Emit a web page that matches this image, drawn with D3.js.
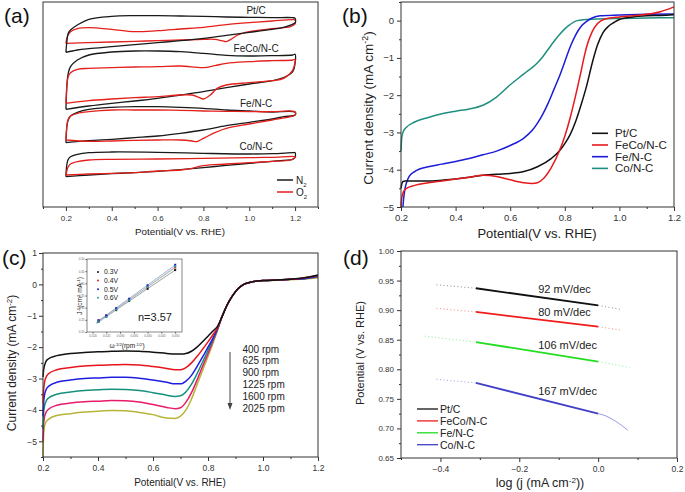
<!DOCTYPE html>
<html><head><meta charset="utf-8">
<script src="https://cdn.jsdelivr.net/npm/d3@7"></script>
<style>body{margin:0;background:#fff}svg{display:block}text{font-family:"Liberation Sans",Arial,sans-serif}</style>
</head><body><script>
// ---------------- DATA ----------------
// (a) cyclic voltammograms (offset current, a.u.), loops: forward then reverse scan
const aLabels = ["Pt/C","FeCo/N-C","Fe/N-C","Co/N-C"];
const ptN2V = [0.2,0.205,0.21,0.22,0.25,0.3,0.4,0.5,0.6,0.7,0.8,0.9,1.0,1.1,1.19,1.2,1.2,1.15,1.1,1.0,0.9,0.8,0.7,0.6,0.5,0.4,0.3,0.25,0.2];
const ptN2J = [46.4,50.1,52.1,53.1,54.6,56.3,57.2,57.4,57.4,57.3,57.2,57.0,56.9,56.8,56.8,56.6,55.3,53.9,53.3,52.4,51.5,50.6,49.9,49.3,48.7,48.1,47.5,47.1,46.4];
const ptO2V = [0.2,0.205,0.21,0.22,0.25,0.3,0.4,0.5,0.6,0.7,0.8,0.9,1.0,1.1,1.19,1.2,1.2,1.18,1.1,1.0,0.95,0.92,0.9,0.88,0.85,0.8,0.7,0.6,0.5,0.4,0.3,0.2];
const ptO2J = [49.1,50.9,51.6,52.6,53.5,53.8,53.3,52.6,52.9,53.4,53.9,54.7,55.3,55.8,56.2,56.1,54.9,54.1,53.5,52.6,51.6,50.3,49.6,49.9,50.3,50.3,50.1,49.9,49.7,49.5,49.3,49.1];
const fecoN2V = [0.2,0.202,0.205,0.21,0.22,0.25,0.3,0.4,0.5,0.6,0.7,0.8,0.9,1.0,1.1,1.19,1.2,1.2,1.19,1.15,1.1,1.0,0.9,0.8,0.7,0.6,0.5,0.4,0.3,0.2];
const fecoN2J = [29.3,33.1,37.1,40.1,42.1,44.1,45.6,46.5,46.8,46.8,46.6,46.1,45.5,45.3,45.4,45.6,45.8,43.1,40.6,38.8,37.9,36.9,35.8,34.6,33.6,32.6,31.8,31.1,30.3,29.3];
const fecoO2V = [0.2,0.202,0.205,0.21,0.22,0.25,0.3,0.4,0.5,0.6,0.7,0.8,0.85,0.9,1.0,1.1,1.19,1.2,1.2,1.19,1.15,1.1,1.0,0.9,0.86,0.83,0.8,0.78,0.75,0.7,0.6,0.5,0.4,0.3,0.2];
const fecoO2J = [31.1,34.1,37.1,39.1,40.3,41.3,41.6,41.8,42.0,42.1,42.3,41.8,42.4,43.1,43.6,43.9,44.1,44.3,43.6,41.1,38.6,37.9,37.3,36.6,35.6,33.6,32.4,32.9,33.6,33.6,33.1,32.8,32.4,31.9,31.1];
const feN2V = [0.2,0.202,0.205,0.21,0.22,0.25,0.3,0.4,0.5,0.6,0.7,0.8,0.9,1.0,1.1,1.2,1.2,1.15,1.1,1.0,0.9,0.8,0.7,0.6,0.5,0.4,0.3,0.2];
const feN2J = [19.3,22.1,24.6,26.1,27.3,28.4,29.3,29.9,30.1,30.1,29.9,29.6,29.1,28.8,28.5,28.4,27.6,27.1,26.4,25.4,24.4,23.1,22.1,21.3,20.8,20.3,19.9,19.3];
const feO2V = [0.2,0.202,0.205,0.21,0.22,0.25,0.3,0.4,0.5,0.6,0.7,0.8,0.9,1.0,1.1,1.18,1.2,1.2,1.18,1.1,1.0,0.9,0.85,0.8,0.77,0.75,0.7,0.6,0.5,0.4,0.3,0.2];
const feO2J = [20.1,22.6,24.9,26.3,27.3,28.1,28.6,29.1,29.1,29.1,29.0,28.8,28.7,28.6,28.6,28.8,28.6,27.6,27.1,26.1,24.9,23.6,22.3,20.6,19.6,19.8,20.1,20.1,20.0,19.8,19.7,20.1];
const coN2V = [0.2,0.202,0.205,0.21,0.22,0.25,0.3,0.4,0.6,0.8,1.0,1.1,1.19,1.2,1.2,1.19,1.15,1.1,1.0,0.9,0.8,0.7,0.6,0.5,0.4,0.3,0.2];
const coN2J = [9.1,11.6,13.1,14.3,15.1,15.8,16.3,16.5,16.4,16.1,15.9,16.0,16.3,16.3,14.9,14.3,14.0,13.7,13.1,12.5,11.8,11.2,10.7,10.3,10.0,9.6,9.1];
const coO2V = [0.2,0.205,0.21,0.22,0.25,0.3,0.4,0.6,0.8,1.0,1.1,1.2,1.2,1.18,1.1,1.0,0.9,0.8,0.75,0.7,0.6,0.5,0.4,0.3,0.2];
const coO2J = [9.6,11.1,12.1,12.9,13.6,14.1,14.3,14.4,14.6,14.8,14.9,15.1,14.9,14.1,13.7,13.3,12.9,12.4,11.6,11.1,10.8,10.3,10.1,9.9,9.6];

// (b) LSV curves (mA cm^-2)
const bNames = ["Pt/C","FeCo/N-C","Fe/N-C","Co/N-C"];
const ptcV = [0.2,0.203,0.207,0.215,0.25,0.3,0.35,0.4,0.45,0.5,0.55,0.6,0.65,0.7,0.75,0.78,0.8,0.82,0.84,0.86,0.88,0.9,0.92,0.94,0.96,0.98,1.0,1.05,1.1,1.15,1.2];
const ptcJ = [-4.5,-4.38,-4.32,-4.3,-4.3,-4.3,-4.28,-4.25,-4.2,-4.15,-4.12,-4.1,-4.05,-3.92,-3.7,-3.5,-3.3,-3.05,-2.7,-2.25,-1.75,-1.15,-0.65,-0.32,-0.15,-0.05,0.03,0.1,0.13,0.14,0.16];
const fecoV = [0.2,0.202,0.205,0.21,0.22,0.25,0.3,0.35,0.4,0.45,0.5,0.55,0.6,0.65,0.68,0.7,0.72,0.75,0.78,0.8,0.82,0.84,0.86,0.87,0.88,0.9,0.92,0.95,1.0,1.05,1.1,1.15,1.2];
const fecoJ = [-5.0,-4.8,-4.68,-4.58,-4.5,-4.42,-4.35,-4.3,-4.25,-4.2,-4.15,-4.18,-4.27,-4.35,-4.37,-4.35,-4.25,-3.95,-3.5,-3.1,-2.6,-2.0,-1.35,-1.0,-0.7,-0.3,-0.08,0.05,0.1,0.13,0.17,0.24,0.37];
const feV = [0.207,0.21,0.215,0.22,0.23,0.25,0.3,0.35,0.4,0.45,0.5,0.55,0.6,0.65,0.68,0.7,0.72,0.74,0.76,0.78,0.8,0.82,0.84,0.86,0.88,0.9,0.93,1.0,1.1,1.2];
const feJ = [-5.0,-4.75,-4.5,-4.35,-4.18,-4.05,-3.92,-3.85,-3.78,-3.7,-3.6,-3.5,-3.35,-3.15,-2.95,-2.75,-2.5,-2.2,-1.85,-1.5,-1.1,-0.7,-0.38,-0.15,-0.02,0.07,0.13,0.15,0.17,0.18];
const coV = [0.2,0.202,0.205,0.21,0.22,0.25,0.3,0.35,0.4,0.45,0.5,0.55,0.6,0.65,0.7,0.72,0.74,0.76,0.78,0.8,0.82,0.845,0.9,1.0,1.1,1.2];
const coJ = [-3.5,-3.2,-3.05,-2.95,-2.86,-2.72,-2.6,-2.5,-2.43,-2.37,-2.27,-2.05,-1.72,-1.43,-1.13,-0.96,-0.76,-0.56,-0.38,-0.22,-0.1,0.0,0.04,0.06,0.07,0.08];

// (c) RDE curves at different rotation rates
const rpmLabels = ["400 rpm","625 rpm","900 rpm","1225 rpm","1600 rpm","2025 rpm"];
const cV = [0.2,0.202,0.205,0.21,0.22,0.25,0.3,0.35,0.4,0.45,0.5,0.55,0.6,0.65,0.68,0.7,0.72,0.74,0.76,0.78,0.8,0.82,0.835,0.85,0.87,0.89,0.91,0.93,0.96,1.0,1.05,1.1,1.15,1.2];
const j400  = [-2.95,-2.75,-2.6,-2.47,-2.37,-2.27,-2.2,-2.17,-2.15,-2.13,-2.12,-2.13,-2.16,-2.2,-2.22,-2.22,-2.2,-2.13,-2.0,-1.83,-1.65,-1.47,-1.33,-1.05,-0.65,-0.35,-0.13,0.0,0.08,0.12,0.14,0.16,0.21,0.3];
const j625  = [-3.8,-3.4,-3.15,-2.98,-2.85,-2.72,-2.65,-2.6,-2.58,-2.56,-2.55,-2.57,-2.62,-2.68,-2.72,-2.72,-2.65,-2.5,-2.3,-2.07,-1.83,-1.58,-1.38,-1.05,-0.65,-0.35,-0.13,0.0,0.08,0.12,0.14,0.16,0.2,0.28];
const j900  = [-4.2,-3.8,-3.55,-3.38,-3.25,-3.12,-3.05,-3.0,-2.98,-2.96,-2.96,-2.99,-3.05,-3.12,-3.17,-3.17,-3.08,-2.9,-2.62,-2.32,-2.0,-1.68,-1.4,-1.05,-0.65,-0.35,-0.13,0.0,0.08,0.12,0.14,0.16,0.19,0.27];
const j1225 = [-4.6,-4.15,-3.9,-3.75,-3.62,-3.5,-3.43,-3.38,-3.36,-3.34,-3.35,-3.38,-3.45,-3.53,-3.57,-3.55,-3.42,-3.18,-2.85,-2.48,-2.1,-1.72,-1.42,-1.05,-0.65,-0.35,-0.13,0.0,0.08,0.12,0.14,0.16,0.18,0.25];
const j1600 = [-5.0,-4.5,-4.25,-4.1,-3.98,-3.85,-3.78,-3.74,-3.72,-3.7,-3.71,-3.75,-3.83,-3.92,-3.96,-3.93,-3.75,-3.45,-3.05,-2.62,-2.2,-1.77,-1.43,-1.05,-0.65,-0.35,-0.13,0.0,0.08,0.12,0.14,0.16,0.18,0.24];
const j2025 = [-5.5,-4.85,-4.55,-4.4,-4.3,-4.18,-4.12,-4.07,-4.04,-4.02,-4.03,-4.08,-4.15,-4.26,-4.27,-4.2,-4.0,-3.65,-3.2,-2.75,-2.3,-1.83,-1.45,-1.05,-0.65,-0.35,-0.13,0.0,0.08,0.12,0.13,0.15,0.17,0.21];

// (c) inset: Koutecky-Levich
const insetLabels = ["0.3V","0.4V","0.5V","0.6V"];
const omegaInv = [0.05,0.04,0.0333,0.0286,0.025,0.0222];
const kl03 = [0.4545,0.3774,0.3279,0.2899,0.2632,0.2427];
const kl04 = [0.4651,0.3846,0.3333,0.2941,0.2667,0.2469];
const kl05 = [0.4762,0.3922,0.3367,0.2985,0.2688,0.2488];
const kl06 = [0.4695,0.3846,0.3300,0.2924,0.2618,0.2427];
const insetXTicks = [0.020,0.025,0.030,0.035,0.040,0.045,0.050];
const insetYTicks = [0.20,0.25,0.30,0.35,0.40,0.45,0.50];

// (d) Tafel plots
const dNames = ["Pt/C","FeCo/N-C","Fe/N-C","Co/N-C"];
const tafelLabels = ["92 mV/dec","80 mV/dec","106 mV/dec","167 mV/dec"];
const fitLogJ = [-0.31,0.0];
const ptFit = [0.937,0.908], fecoFit = [0.897,0.872], feFit = [0.846,0.813], coFit = [0.777,0.725];
const ptLeftX = [-0.41,-0.31], ptLeftY = [0.943,0.937], ptRightX = [0.0,0.06], ptRightY = [0.908,0.901];
const fecoLeftX = [-0.41,-0.31], fecoLeftY = [0.903,0.897], fecoRightX = [0.0,0.06], fecoRightY = [0.872,0.866];
const feLeftX = [-0.44,-0.31], feLeftY = [0.856,0.846], feRightX = [0.0,0.08], feRightY = [0.813,0.803];
const coLeftX = [-0.41,-0.31], coLeftY = [0.783,0.777], coRightX = [0.0,0.02,0.04,0.06,0.075], coRightY = [0.725,0.721,0.714,0.705,0.697];

// tick values
const aXMajor = [0.2,0.4,0.6,0.8,1.0,1.2], aXMinor = [0.1,0.3,0.5,0.7,0.9,1.1,1.3];
const bXMajor = [0.2,0.4,0.6,0.8,1.0,1.2], bXMinor = [0.3,0.5,0.7,0.9,1.1];
const bYMajor = [0,-1,-2,-3,-4,-5], bYMinor = [0.5,-0.5,-1.5,-2.5,-3.5,-4.5];
const cXMajor = [0.2,0.4,0.6,0.8,1.0,1.2], cXMinor = [0.3,0.5,0.7,0.9,1.1];
const cYMajor = [1,0,-1,-2,-3,-4,-5], cYMinor = [0.5,-0.5,-1.5,-2.5,-3.5,-4.5,-5.5];
const dXMajor = [-0.4,-0.2,0.0,0.2], dXMinor = [-0.5,-0.3,-0.1,0.1];
const dYMajor = [0.65,0.70,0.75,0.80,0.85,0.90,0.95,1.00], dYMinor = [0.675,0.725,0.775,0.825,0.875,0.925,0.975];

// ---------------- DRAW ----------------
const svg = d3.select("body").append("svg").attr("width",685).attr("height",492);
const AX = "#333";
function frame(x0,x1,y0,y1){
  svg.append("rect").attr("x",x0).attr("y",y0).attr("width",x1-x0).attr("height",y1-y0)
    .attr("fill","none").attr("stroke",AX).attr("stroke-width",1);
}
function axis(fn, scale, tx, ty, majors, minors, fmt, fs, pad, len){
  len = len||4;
  const g = svg.append("g").attr("transform",`translate(${tx},${ty})`);
  g.call(fn(scale).tickValues(majors).tickSize(len).tickPadding(pad).tickFormat(fmt));
  g.select(".domain").remove();
  g.attr("font-family",'"Liberation Sans",Arial,sans-serif').attr("font-size",fs);
  g.selectAll("text").attr("fill","#333");
  g.selectAll("line").attr("stroke",AX);
  if(minors){
    const g2 = svg.append("g").attr("transform",`translate(${tx},${ty})`);
    g2.call(fn(scale).tickValues(minors).tickSize(len/2).tickFormat(""));
    g2.select(".domain").remove();
    g2.selectAll("line").attr("stroke",AX);
  }
}
function text(x,y,s,fs,opts){
  opts=opts||{};
  const t = svg.append("text").attr("x",x).attr("y",y).attr("font-size",fs).attr("fill",opts.fill||"#222")
    .attr("text-anchor",opts.anchor||"start");
  if(opts.family) t.attr("font-family",opts.family);
  if(opts.rotate) t.attr("transform",`rotate(-90,${x},${y})`);
  return t;
}
function sup(t, s, main){
  t.append("tspan").text(s).attr("baseline-shift","super").attr("font-size","65%");
  if(main!==undefined) t.append("tspan").text(main);
}
const f1 = d3.format(".1f"), f2 = d3.format(".2f"), f0 = d3.format("d");

// ===== (a) =====
const xA = d3.scaleLinear().domain([0.1,1.3]).range([43,318]);
const yA = d3.scaleLinear().domain([0,61.5]).range([207,2]);
const lineA = d3.line().x(d=>xA(d[0])).y(d=>yA(d[1])).curve(d3.curveCatmullRom.alpha(0.5));
[[ptO2V,ptO2J,"#e3201b"],[ptN2V,ptN2J,"#1a1a1a"],[fecoN2V,fecoN2J,"#1a1a1a"],[fecoO2V,fecoO2J,"#e3201b"],
 [feN2V,feN2J,"#1a1a1a"],[feO2V,feO2J,"#e3201b"],[coN2V,coN2J,"#1a1a1a"],[coO2V,coO2J,"#e3201b"]]
 .forEach(([v,j,c])=>svg.append("path").attr("d",lineA(d3.zip(v,j))).attr("fill","none").attr("stroke",c).attr("stroke-width",1.3));
frame(43,318,2,207);
axis(d3.axisBottom, xA, 0, 207, aXMajor, aXMinor, f1, 8, 4);
const aLabY = [58.0,46.6,30.1,17.2];
aLabels.forEach((s,i)=>text(xA(1.03),yA(aLabY[i]),s,10,{anchor:"middle"}).text(s));
[["N","2","#1a1a1a",180],["O","2","#e3201b",192]].forEach(([m,sb,c,y])=>{
  svg.append("line").attr("x1",277).attr("x2",293).attr("y1",y).attr("y2",y).attr("stroke",c).attr("stroke-width",1.5);
  const t=text(296,y+3.5,"",10); t.append("tspan").text(m);
  t.append("tspan").text(sb).attr("baseline-shift","sub").attr("font-size","60%");
});
text(180,235,"",9.8,{anchor:"middle"}).text("Potential(V vs. RHE)");
text(4,23,"",21,{family:'"Liberation Serif","Times New Roman",serif',fill:"#111"}).text("(a)");

// ===== (b) =====
const xB = d3.scaleLinear().domain([0.2,1.2]).range([401,674]);
const yB = d3.scaleLinear().domain([-5,0.5]).range([207,2]);
const lineB = d3.line().x(d=>xB(d[0])).y(d=>yB(d[1])).curve(d3.curveMonotoneX);
const bCols = ["#111111","#e41a1c","#1c1cd8","#1f8f7f"];
const bData = [[ptcV,ptcJ],[fecoV,fecoJ],[feV,feJ],[coV,coJ]];
[3,2,0,1].forEach(i=>svg.append("path").attr("d",lineB(d3.zip(bData[i][0],bData[i][1]))).attr("fill","none").attr("stroke",bCols[i]).attr("stroke-width",1.5));
frame(401,674,2,207);
axis(d3.axisBottom, xB, 0, 207, bXMajor, bXMinor, f1, 9.5, 3.5);
axis(d3.axisLeft, yB, 401, 0, bYMajor, bYMinor, f0, 9.5, 3);
bNames.forEach((s,i)=>{
  const y = 133.3 + i*11.7;
  svg.append("line").attr("x1",592).attr("x2",608).attr("y1",y).attr("y2",y).attr("stroke",bCols[i]).attr("stroke-width",1.6);
  text(615,y+4,"",11.5).text(s);
});
{ const t=text(368,108,"",13.5,{anchor:"middle",rotate:true}); t.attr("dy","0.35em"); t.append("tspan").text("Current density (mA cm"); sup(t,"-2",")"); }
text(537,238,"",13,{anchor:"middle"}).text("Potential(V vs. RHE)");
text(342,23,"",21,{family:'"Liberation Serif","Times New Roman",serif',fill:"#111"}).text("(b)");

// ===== (c) =====
const xC = d3.scaleLinear().domain([0.2,1.2]).range([43,318]);
const yC = d3.scaleLinear().domain([-5.5,1]).range([457,253]);
const lineC = d3.line().x(d=>xC(d[0])).y(d=>yC(d[1])).curve(d3.curveMonotoneX);
const cCols = ["#111111","#e8141c","#1e1ee0","#14907c","#e81a6c","#b8b43a"];
const cData = [j400,j625,j900,j1225,j1600,j2025];
cData.slice().reverse().forEach((j,ri)=>{
  const i = 5-ri;
  svg.append("path").attr("d",lineC(d3.zip(cV,j))).attr("fill","none").attr("stroke",cCols[i]).attr("stroke-width",1.5);
});
frame(43,318,253,457);
axis(d3.axisBottom, xC, 0, 457, cXMajor, cXMinor, f1, 8.5, 4);
axis(d3.axisLeft, yC, 43, 0, cYMajor, cYMinor, f0, 8.5, 2);
rpmLabels.forEach((s,i)=>text(242.5,352.5+i*11.9,"",10).text(s));
svg.append("line").attr("x1",230).attr("x2",230).attr("y1",352).attr("y2",404).attr("stroke","#444").attr("stroke-width",1);
svg.append("path").attr("d","M227.5,403 L232.5,403 L230,410 Z").attr("fill","#444");
{ const t=text(12,363,"",12,{anchor:"middle",rotate:true}); t.attr("dy","0.35em"); t.append("tspan").text("Current density (mA cm"); sup(t,"-2",")"); }
text(180,486,"",10,{anchor:"middle"}).text("Potential(V vs. RHE)");
text(2,265,"",21,{family:'"Liberation Serif","Times New Roman",serif',fill:"#111"}).text("(c)");

// inset
svg.append("rect").attr("x",68).attr("y",256).attr("width",118).attr("height",93).attr("fill","#fff");
const xI = d3.scaleLinear().domain([0.018,0.0525]).range([87,182]);
const yI = d3.scaleLinear().domain([0.2,0.5]).range([332,259]);
const iCols = ["#111111","#e02020","#2020d0","#20a0a0"];
const klData = [kl03,kl04,kl05,kl06];
klData.forEach((ys,k)=>{
  const pts = d3.zip(omegaInv,ys);
  const mx = d3.mean(omegaInv), my = d3.mean(ys);
  const b = d3.sum(pts,p=>(p[0]-mx)*(p[1]-my))/d3.sum(omegaInv,x=>(x-mx)*(x-mx));
  const a0 = my - b*mx;
  svg.append("line").attr("x1",xI(0.0215)).attr("x2",xI(0.0505)).attr("y1",yI(a0+b*0.0215)).attr("y2",yI(a0+b*0.0505))
    .attr("stroke",["#888","#c99","#99c","#8cc"][k]).attr("stroke-width",0.8);
});
klData.forEach((ys,k)=>{
  svg.append("g").selectAll("rect").data(d3.zip(omegaInv,ys)).join("rect")
    .attr("x",d=>xI(d[0])-1).attr("y",d=>yI(d[1])-1).attr("width",2).attr("height",2).attr("fill",iCols[k]);
});
svg.append("rect").attr("x",87).attr("y",259).attr("width",95).attr("height",73).attr("fill","none").attr("stroke","#555").attr("stroke-width",0.7);
{
  const g = svg.append("g").attr("transform","translate(0,332)");
  g.call(d3.axisBottom(xI).tickValues(insetXTicks).tickSize(1.5).tickPadding(1).tickFormat(d3.format(".3f")));
  g.select(".domain").remove(); g.attr("font-size",3).attr("font-family","Liberation Sans");
  g.selectAll("text").attr("fill","#666"); g.selectAll("line").attr("stroke","#555");
  const g2 = svg.append("g").attr("transform","translate(87,0)");
  g2.call(d3.axisLeft(yI).tickValues(insetYTicks).tickSize(1.5).tickPadding(1).tickFormat(d3.format(".2f")));
  g2.select(".domain").remove(); g2.attr("font-size",3).attr("font-family","Liberation Sans");
  g2.selectAll("text").attr("fill","#666"); g2.selectAll("line").attr("stroke","#555");
}
insetLabels.forEach((s,k)=>{
  const y = 272 + k*8.6;
  svg.append("circle").attr("cx",98).attr("cy",y).attr("r",1).attr("fill",iCols[k]);
  text(104,y+2.3,"",6.8).text(s);
});
text(138,321,"",11).text("n=3.57");
{ const t=text(80,296,"",6.5,{anchor:"middle",rotate:true}); t.attr("dy","0.35em"); t.append("tspan").text("J"); sup(t,"-1","(cm"); sup(t,"2"," mA"); sup(t,"-1",")"); }
{ const t=text(127,348,"",6.5,{anchor:"middle"}); t.append("tspan").text("ω"); sup(t,"-1/2","(rpm"); sup(t,"-1/2",")"); }

// ===== (d) =====
const xD = d3.scaleLinear().domain([-0.5,0.2]).range([401,677]);
const yD = d3.scaleLinear().domain([0.65,1.0]).range([458,251]);
const lineD = d3.line().x(d=>xD(d[0])).y(d=>yD(d[1])).curve(d3.curveMonotoneX);
const dCols = ["#111111","#ee1c1c","#22dd22","#4040c8"];
const dFaint = ["#8a8a9a","#f08a8a","#90ee90","#9a9ae6"];
const dFit = [ptFit,fecoFit,feFit,coFit];
const dLeft = [[ptLeftX,ptLeftY],[fecoLeftX,fecoLeftY],[feLeftX,feLeftY],[coLeftX,coLeftY]];
const dRight = [[ptRightX,ptRightY],[fecoRightX,fecoRightY],[feRightX,feRightY],[coRightX,coRightY]];
dNames.forEach((n,i)=>{
  svg.append("path").attr("d",lineD(d3.zip(dLeft[i][0],dLeft[i][1]))).attr("fill","none").attr("stroke",dFaint[i]).attr("stroke-width",1).attr("stroke-dasharray","1,2.5");
  const r = svg.append("path").attr("d",lineD(d3.zip(dRight[i][0],dRight[i][1]))).attr("fill","none").attr("stroke",dFaint[i]).attr("stroke-width",1);
  if(i<3) r.attr("stroke-dasharray","1,2.5");
  svg.append("path").attr("d",lineD(d3.zip(fitLogJ,dFit[i]))).attr("fill","none").attr("stroke",dCols[i]).attr("stroke-width",1.8);
});
frame(401,677,251,458);
axis(d3.axisBottom, xD, 0, 458, dXMajor, dXMinor, f1, 8.5, 4);
axis(d3.axisLeft, yD, 401, 0, dYMajor, dYMinor, f2, 8, 3);
const tafY = [0.935,0.897,0.841,0.763];
tafelLabels.forEach((s,i)=>text(xD(-0.152),yD(tafY[i]),"",11).attr("dy","0.35em").text(s));
dNames.forEach((s,i)=>{
  const y = 409 + i*11.9;
  svg.append("line").attr("x1",417).attr("x2",438).attr("y1",y).attr("y2",y).attr("stroke",dCols[i]).attr("stroke-width",1.3);
  text(440,y+3.8,"",10.5).text(s);
});
{ const t=text(360,353,"",11,{anchor:"middle",rotate:true}); t.attr("dy","0.35em"); t.text("Potential (V vs. RHE)"); }
{ const t=text(540,487,"",12.5,{anchor:"middle"}); t.append("tspan").text("log (j (mA cm"); sup(t,"-2","))"); }
text(343,265,"",21,{family:'"Liberation Serif","Times New Roman",serif',fill:"#111"}).text("(d)");
</script></body></html>
